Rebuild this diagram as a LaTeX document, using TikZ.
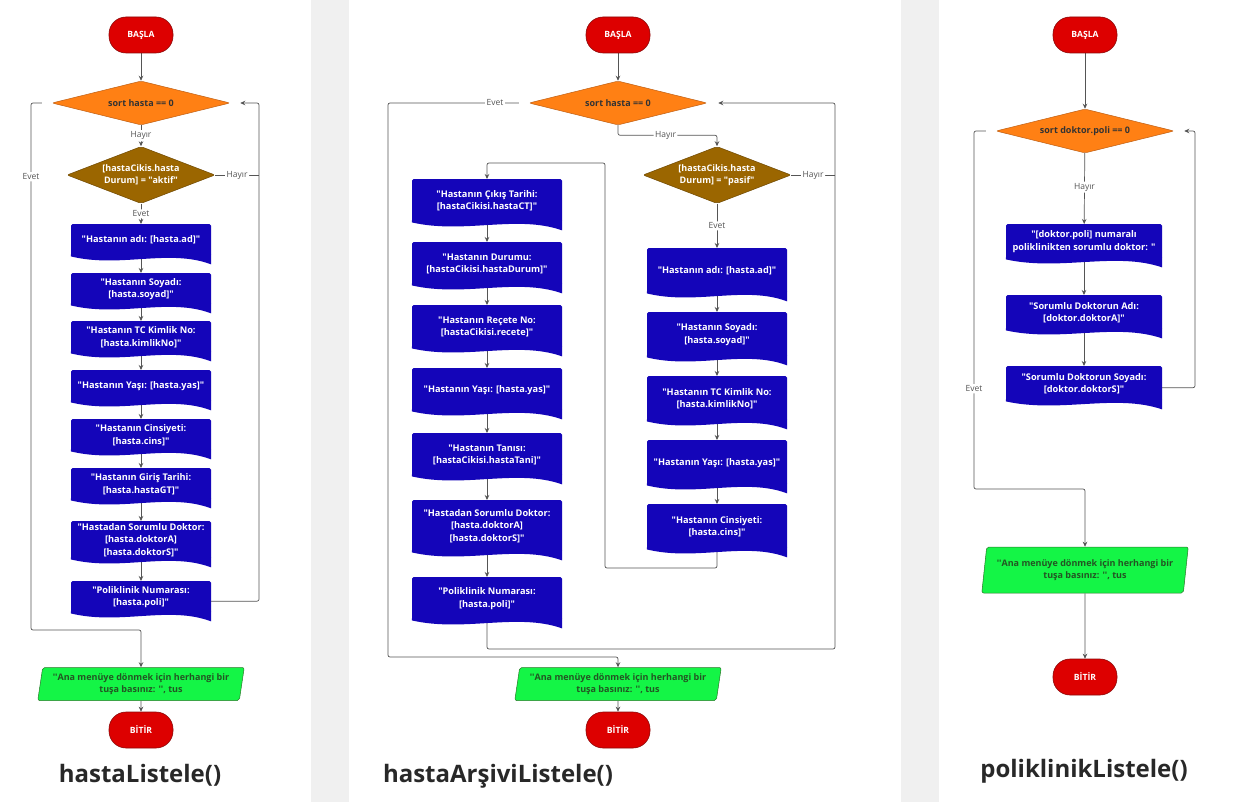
\documentclass[tikz,border=0pt]{standalone}
\usepackage{fontspec}
\setmainfont{Open Sans}
\usetikzlibrary{shapes.geometric, arrows.meta, positioning, calc, backgrounds}
\definecolor{startred}{RGB}{221, 0, 0}
\definecolor{startedge}{RGB}{140, 10, 10}
\definecolor{sortorange}{RGB}{255, 128, 20}
\definecolor{sortedge}{RGB}{190, 95, 20}
\definecolor{durumbrown}{RGB}{155, 102, 0}
\definecolor{durumedge}{RGB}{110, 72, 0}
\definecolor{docblue}{RGB}{20, 5, 185}
\definecolor{outgreen}{RGB}{20, 245, 70}
\definecolor{outedge}{RGB}{40, 120, 40}
\definecolor{outtext}{RGB}{35, 85, 35}
\definecolor{linegray}{RGB}{85, 85, 85}
\definecolor{bandgray}{RGB}{240, 240, 240}
\definecolor{titlegray}{RGB}{40, 40, 40}
\newcommand{\dq}{\textquotedbl}
\newcommand{\sq}{\textquotesingle\textquotesingle}

\tikzset{
    terminal/.style={rectangle, rounded corners=17pt, minimum width=64pt, minimum height=36pt,
        fill=startred, draw=startedge, line width=0.6pt, text=white,
        font=\bfseries\fontsize{8.6}{10}\selectfont},
    sortdec/.style={diamond, aspect=4, inner sep=0pt, rounded corners=2pt,
        minimum width=178pt, minimum height=44pt, fill=sortorange, draw=sortedge,
        line width=0.5pt, text=black!80, font=\bfseries\fontsize{9}{11}\selectfont},
    durumdec/.style={diamond, aspect=2.6, inner sep=0pt, rounded corners=2pt, align=center,
        minimum width=148pt, minimum height=57pt, fill=durumbrown, draw=durumedge,
        line width=0.5pt, text=white, font=\bfseries\fontsize{9}{12}\selectfont},
    docbox/.style={rectangle, anchor=north, rounded corners=1.5pt, fill=docblue, align=center,
        inner xsep=3pt, inner ysep=2pt, text=white, font=\bfseries\fontsize{9.2}{12.5}\selectfont,
        append after command={\pgfextra{
            \fill[docblue] ([yshift=2pt]\tikzlastnode.south west) -- ([yshift=2pt]\tikzlastnode.south east)
                -- ([yshift=-8pt]\tikzlastnode.south east)
                .. controls ($(\tikzlastnode.south west)!0.7!(\tikzlastnode.south east)+(0,8pt)$)
                and ($(\tikzlastnode.south west)!0.35!(\tikzlastnode.south east)+(0,-12pt)$)
                .. (\tikzlastnode.south west) -- cycle;}}},
    ldoc/.style={docbox, minimum width=140pt, minimum height=32pt},
    mldoc/.style={docbox, minimum width=150pt, minimum height=43pt},
    mrdoc/.style={docbox, minimum width=140pt, minimum height=45pt},
    pdoc/.style={docbox, minimum width=156pt, minimum height=35pt},
    outbox/.style={trapezium, trapezium left angle=79, trapezium right angle=101,
        trapezium stretches=true, minimum width=207pt, minimum height=33pt, inner sep=1pt,
        rounded corners=2pt, fill=outgreen, draw=outedge, line width=0.5pt, align=center,
        text=outtext, font=\bfseries\fontsize{9}{12}\selectfont},
    flow/.style={draw=linegray, line width=0.7pt, rounded corners=2pt,
        -{Stealth[length=5pt, width=4.5pt]}},
    plain/.style={draw=linegray, line width=0.7pt, rounded corners=2pt},
    lbl/.style={fill=white, inner sep=1.5pt, text=linegray, font=\fontsize{8.5}{10}\selectfont},
    title/.style={anchor=base, text=titlegray, font=\bfseries\fontsize{24}{27}\selectfont}
}

\begin{document}
\begin{tikzpicture}[x=1pt, y=-1pt]
    \useasboundingbox (0,0) rectangle (1245,802);

    % Background strips
    \begin{scope}[on background layer]
        \fill[white] (0,0) rectangle (1245,802);
        \fill[bandgray] (311,0) rectangle (349,802);
        \fill[bandgray] (901,0) rectangle (939,802);
    \end{scope}

    % hastaListele()
    \node[terminal] (Lstart) at (141,35) {BAŞLA};
    \node[sortdec] (Lsort) at (141,103) {sort hasta == 0};
    \node[durumdec] (Ldurum) at (141,175) {[hastaCikis.hasta\\Durum] = \dq aktif\dq};
    \node[ldoc] (L1) at (141,224) {\dq Hastanın adı: [hasta.ad]\dq};
    \node[ldoc] (L2) at (141,273) {\dq Hastanın Soyadı:\\{[hasta.soyad]\dq}};
    \node[ldoc] (L3) at (141,321) {\dq Hastanın TC Kimlik No:\\{[hasta.kimlikNo]\dq}};
    \node[ldoc] (L4) at (141,370) {\dq Hastanın Yaşı: [hasta.yas]\dq};
    \node[ldoc] (L5) at (141,419) {\dq Hastanın Cinsiyeti:\\{[hasta.cins]\dq}};
    \node[ldoc] (L6) at (141,468) {\dq Hastanın Giriş Tarihi:\\{[hasta.hastaGT]\dq}};
    \node[ldoc, minimum height=38pt] (L7) at (141,521) {\dq Hastadan Sorumlu Doktor:\\{[hasta.doktorA]}\\{[hasta.doktorS]\dq}};
    \node[ldoc] (L8) at (141,581) {\dq Poliklinik Numarası:\\{[hasta.poli]\dq}};
    \node[outbox] (Lout) at (141,684) {\sq Ana menüye dönmek için herhangi bir\\tuşa basınız: \sq, tus};
    \node[terminal] (Lend) at (141,730) {BİTİR};
    \node[title] (Ltitle) at (140,782) {hastaListele()};

    % hastaArşiviListele()
    \node[terminal] (Mstart) at (618,35) {BAŞLA};
    \node[sortdec] (Msort) at (618,103) {sort hasta == 0};
    \node[durumdec] (Mdurum) at (717,175) {[hastaCikis.hasta\\Durum] = \dq pasif\dq};
    \node[mrdoc] (MR1) at (717,248) {\dq Hastanın adı: [hasta.ad]\dq};
    \node[mrdoc] (MR2) at (717,312) {\dq Hastanın Soyadı:\\{[hasta.soyad]\dq}};
    \node[mrdoc] (MR3) at (717,376) {\dq Hastanın TC Kimlik No:\\{[hasta.kimlikNo]\dq}};
    \node[mrdoc] (MR4) at (717,440) {\dq Hastanın Yaşı: [hasta.yas]\dq};
    \node[mrdoc] (MR5) at (717,504) {\dq Hastanın Cinsiyeti:\\{[hasta.cins]\dq}};
    \node[mldoc] (ML1) at (487,179) {\dq Hastanın Çıkış Tarihi:\\{[hastaCikisi.hastaCT]\dq}};
    \node[mldoc] (ML2) at (487,242) {\dq Hastanın Durumu:\\{[hastaCikisi.hastaDurum]\dq}};
    \node[mldoc] (ML3) at (487,305) {\dq Hastanın Reçete No:\\{[hastaCikisi.recete]\dq}};
    \node[mldoc] (ML4) at (487,368) {\dq Hastanın Yaşı: [hasta.yas]\dq};
    \node[mldoc] (ML5) at (487,433) {\dq Hastanın Tanısı:\\{[hastaCikisi.hastaTani]\dq}};
    \node[mldoc, minimum height=52pt] (ML6) at (487,500) {\dq Hastadan Sorumlu Doktor:\\{[hasta.doktorA]}\\{[hasta.doktorS]\dq}};
    \node[mldoc] (ML7) at (487,577) {\dq Poliklinik Numarası:\\{[hasta.poli]\dq}};
    \node[outbox] (Mout) at (618,684) {\sq Ana menüye dönmek için herhangi bir\\tuşa basınız: \sq, tus};
    \node[terminal] (Mend) at (618,730) {BİTİR};
    \node[title] (Mtitle) at (498,782) {hastaArşiviListele()};

    % poliklinikListele()
    \node[terminal] (Pstart) at (1085,35) {BAŞLA};
    \node[sortdec] (Psort) at (1085,131) {sort doktor.poli == 0};
    \node[pdoc] (P1) at (1084,224) {\dq[doktor.poli] numaralı\\poliklinikten sorumlu doktor: \dq};
    \node[pdoc] (P2) at (1084,295) {\dq Sorumlu Doktorun Adı:\\{[doktor.doktorA]\dq}};
    \node[pdoc] (P3) at (1084,366) {\dq Sorumlu Doktorun Soyadı:\\{[doktor.doktorS]\dq}};
    \node[outbox, minimum height=46pt] (Pout) at (1085,570) {\sq Ana menüye dönmek için herhangi bir\\tuşa basınız: \sq, tus};
    \node[terminal] (Pend) at (1085,677) {BİTİR};
    \node[title] (Ptitle) at (1084,777) {poliklinikListele()};

    % Connectors
    \begin{scope}[on background layer]
        \coordinate (Lright) at (259,103);
        \coordinate (Lleft) at (31,630);
        \draw[flow] (Lstart) -- (Lsort);
        \draw[flow] (Lsort) -- node[lbl] {Hayır} (Ldurum);
        \draw[flow] (Ldurum) -- node[lbl] {Evet} (L1);
        \foreach \a/\b in {L1/L2, L2/L3, L3/L4, L4/L5, L5/L6, L6/L7, L7/L8} {
            \draw[flow] (\a.south) -- (\b.north);
        }
        \draw[flow, shorten >=10pt] ([yshift=-4pt]L8.east) -| (Lright) -- (Lsort.east);
        \draw[plain] (Ldurum.east) -- node[lbl] {Hayır} (Ldurum.east -| Lright);
        \draw[flow, shorten <=10pt] (Lsort.west) -| node[pos=0.57, lbl] {Evet} (Lleft) -| (Lout.north);
        \draw[flow] (Lout) -- (Lend);

        \coordinate (Mleft) at (388,657);
        \coordinate (Mright) at (835,649);
        \coordinate (Mturn) at (605,568);
        \coordinate (Mtop) at (605,163);
        \draw[flow] (Mstart) -- (Msort);
        \draw[flow, shorten <=10pt] (Msort.west) -| node[pos=0.12, lbl] {Evet} (Mleft) -| (Mout.north);
        \draw[flow] (Msort.south) -- ++(0,10) -| node[pos=0.24, lbl] {Hayır} (Mdurum.north);
        \draw[flow] (Mdurum) -- node[lbl] {Evet} (MR1);
        \draw[plain] (Mdurum.east) -- node[lbl] {Hayır} (Mdurum.east -| Mright);
        \foreach \a/\b in {MR1/MR2, MR2/MR3, MR3/MR4, MR4/MR5, ML1/ML2, ML2/ML3, ML3/ML4, ML4/ML5, ML5/ML6, ML6/ML7} {
            \draw[flow] (\a.south) -- (\b.north);
        }
        \draw[flow] (MR5.south) |- (Mturn) -- (Mtop) -| (ML1.north);
        \draw[flow, shorten >=11pt] (ML7.south) |- (Mright) |- (Msort.east);
        \draw[flow] (Mout) -- (Mend);

        \coordinate (Pright) at (1195,131);
        \coordinate (Pleft) at (974,489);
        \draw[flow] (Pstart) -- (Psort);
        \draw[flow] (Psort) -- node[pos=0.48, lbl] {Hayır} (P1);
        \foreach \a/\b in {P1/P2, P2/P3} {
            \draw[flow] (\a.south) -- (\b.north);
        }
        \draw[flow, shorten >=10pt] ([yshift=-4pt]P3.east) -| (Pright) -- (Psort.east);
        \draw[flow, shorten <=10pt] (Psort.west) -| node[pos=0.86, lbl] {Evet} (Pleft) -| (Pout.north);
        \draw[flow] (Pout) -- (Pend);
    \end{scope}
\end{tikzpicture}
\end{document}
